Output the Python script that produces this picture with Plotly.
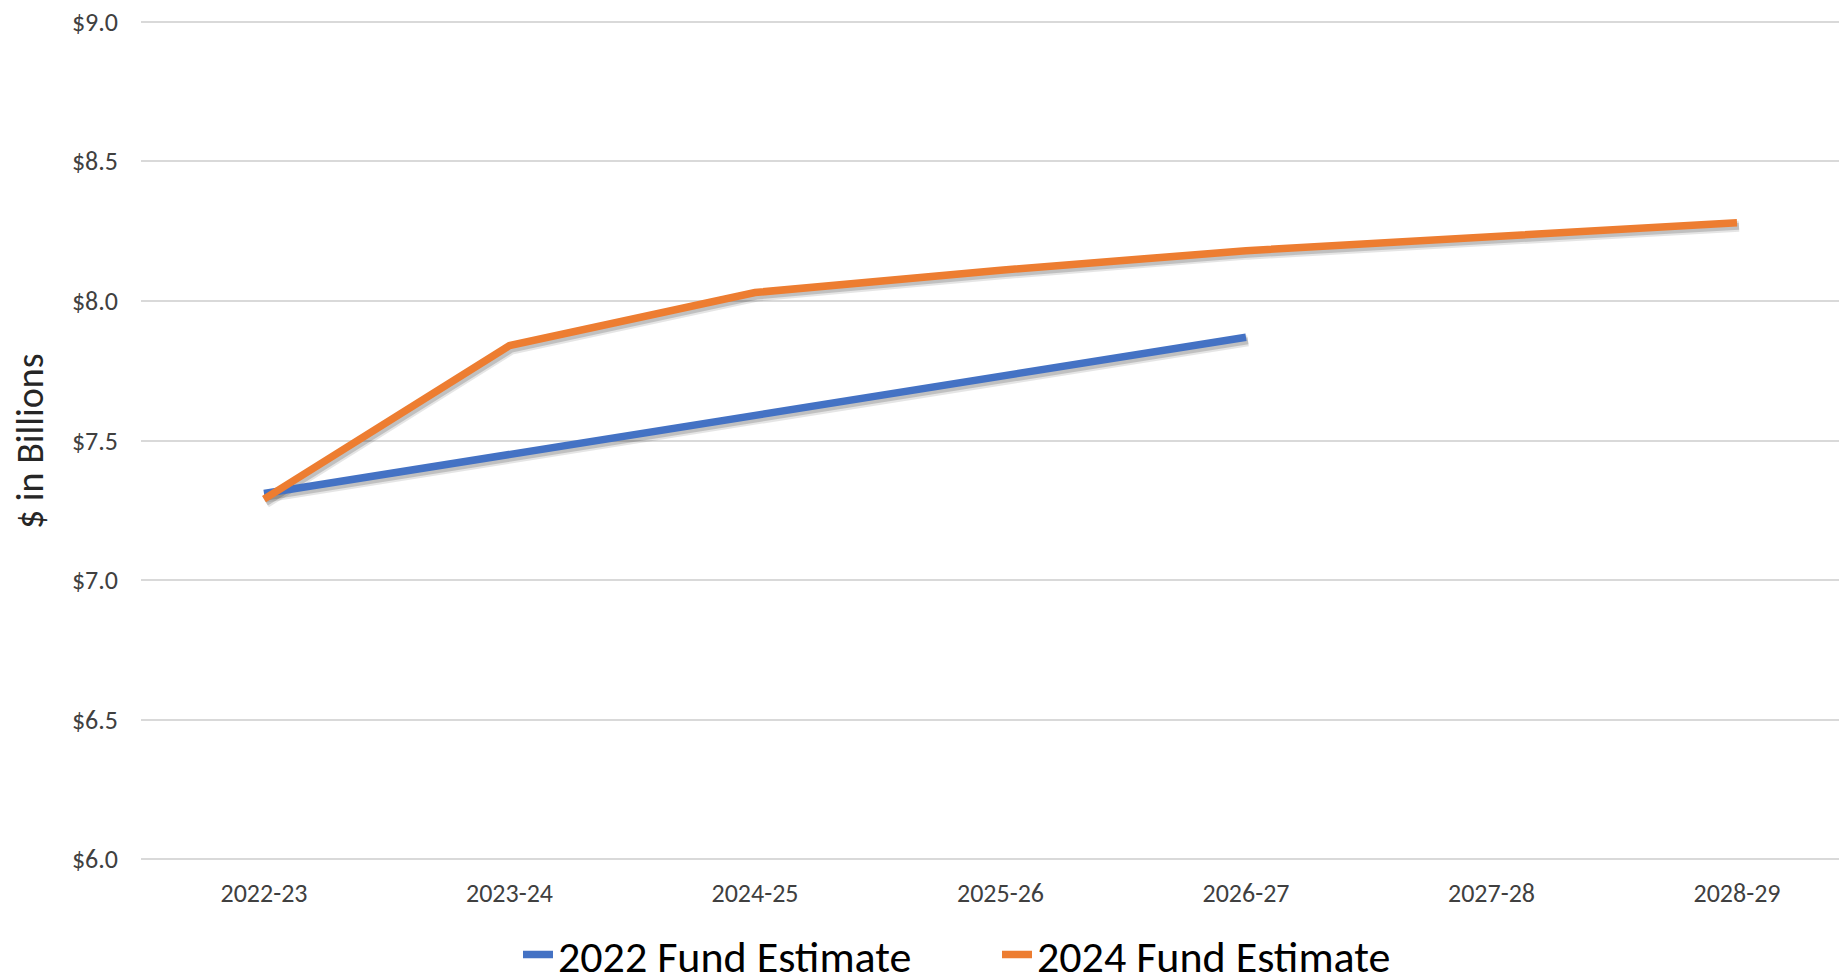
import plotly.graph_objects as go

categories = ["2022-23", "2023-24", "2024-25", "2025-26", "2026-27", "2027-28", "2028-29"]
fund_2022 = [7.31, 7.45, 7.59, 7.73, 7.87, None, None]
fund_2024 = [7.29, 7.84, 8.03, 8.11, 8.18, 8.23, 8.28]
series_names = ["2022 Fund Estimate", "2024 Fund Estimate"]
series_colors = ["#4472C4", "#ED7D31"]
y_ticks = [6.0, 6.5, 7.0, 7.5, 8.0, 8.5, 9.0]
y_tick_labels = ["$6.0", "$6.5", "$7.0", "$7.5", "$8.0", "$8.5", "$9.0"]
y_title = "$ in Billions"

FONT = "Calibri, Carlito, Lato, sans-serif"

# page has an 8px body margin: size/offset the figure to compensate
OFF = 8
W, H = 1847 - OFF, 980 - OFF
# target page positions (px)
y_top_px, y_bot_px = 21.7, 859.3        # where 9.0 and 6.0 sit
x_first_px, x_step_px = 264.0, 245.5    # first category centre, spacing
ML, MT, MB, MR = 133, 10, 117, 0

plot_top_page = MT + OFF
plot_bot_page = H - MB + OFF
plot_h = H - MT - MB
plot_w = W - ML - MR
ppv = (y_bot_px - y_top_px) / (y_ticks[-1] - y_ticks[0])
y_range = [y_ticks[0] - (plot_bot_page - y_bot_px) / ppv,
           y_ticks[-1] + (y_top_px - plot_top_page) / ppv]
plot_left_page = ML + OFF
plot_right_page = W - MR + OFF
x_range = [(plot_left_page - x_first_px) / x_step_px,
           (plot_right_page - x_first_px) / x_step_px]

# legend text centre (page px) expressed in paper coords
legend_mid_page = 955
legend_y = (plot_bot_page - legend_mid_page) / plot_h
# y-axis title centre (page px) in paper coords
title_x = (30 - plot_left_page) / plot_w
title_y = (plot_bot_page - 441) / plot_h

# shadow offset (pixels) expressed as an axis-range shift
sdx, sdy = 2.0, 3.5
shadow_x_range = [x_range[0] - sdx / x_step_px, x_range[1] - sdx / x_step_px]
shadow_y_range = [y_range[0] + sdy / ppv, y_range[1] + sdy / ppv]

fig = go.Figure()

# soft drop shadows (on hidden base axes, drawn underneath)
for vals in (fund_2022, fund_2024):
    fig.add_trace(go.Scatter(
        x=categories, y=vals, mode="lines", xaxis="x", yaxis="y",
        line=dict(color="rgba(0,0,0,0.10)", width=11),
        showlegend=False, hoverinfo="skip", connectgaps=False,
    ))
    fig.add_trace(go.Scatter(
        x=categories, y=vals, mode="lines", xaxis="x", yaxis="y",
        line=dict(color="rgba(0,0,0,0.16)", width=7),
        showlegend=False, hoverinfo="skip", connectgaps=False,
    ))

for name, vals, col in zip(series_names, (fund_2022, fund_2024), series_colors):
    fig.add_trace(go.Scatter(
        x=categories, y=vals, mode="lines", name=name, xaxis="x2", yaxis="y2",
        line=dict(color=col, width=7.5), connectgaps=False,
    ))

fig.update_layout(
    width=W, height=H,
    margin=dict(l=ML, r=MR, t=MT, b=MB, autoexpand=False),
    paper_bgcolor="white",
    plot_bgcolor="rgba(0,0,0,0)",
    font=dict(family=FONT, color="#404040"),
    xaxis=dict(type="category", categoryorder="array", categoryarray=categories,
               range=shadow_x_range, visible=False, fixedrange=True, automargin=False),
    yaxis=dict(range=shadow_y_range, visible=False, fixedrange=True, automargin=False),
    xaxis2=dict(type="category", categoryorder="array", categoryarray=categories,
                range=x_range, overlaying="x", side="bottom", automargin=False,
                showgrid=False, showline=False, zeroline=False, ticks="",
                tickfont=dict(size=26, color="#404040", family=FONT),
                ticklabelstandoff=12),
    yaxis2=dict(range=y_range, overlaying="y", side="left", automargin=False,
                tickmode="array", tickvals=y_ticks, ticktext=y_tick_labels,
                showgrid=True, gridcolor="#d9d9d9", gridwidth=1.5,
                showline=False, zeroline=False, ticks="",
                ticklabeloverflow="allow",
                tickfont=dict(size=26, color="#404040", family=FONT),
                ticklabelstandoff=22),
    annotations=[dict(text=y_title, xref="paper", yref="paper",
                      x=title_x, y=title_y, xanchor="center", yanchor="middle",
                      textangle=-90, showarrow=False,
                      font=dict(size=38, color="#262626", family=FONT))],
    legend=dict(orientation="h", xref="container", yref="paper",
                x=510 / W, xanchor="left", y=legend_y, yanchor="middle",
                font=dict(size=44, color="#000000", family=FONT),
                bgcolor="rgba(0,0,0,0)", itemwidth=30, entrywidth=434),
    showlegend=True,
)

fig.write_html("out.html")
